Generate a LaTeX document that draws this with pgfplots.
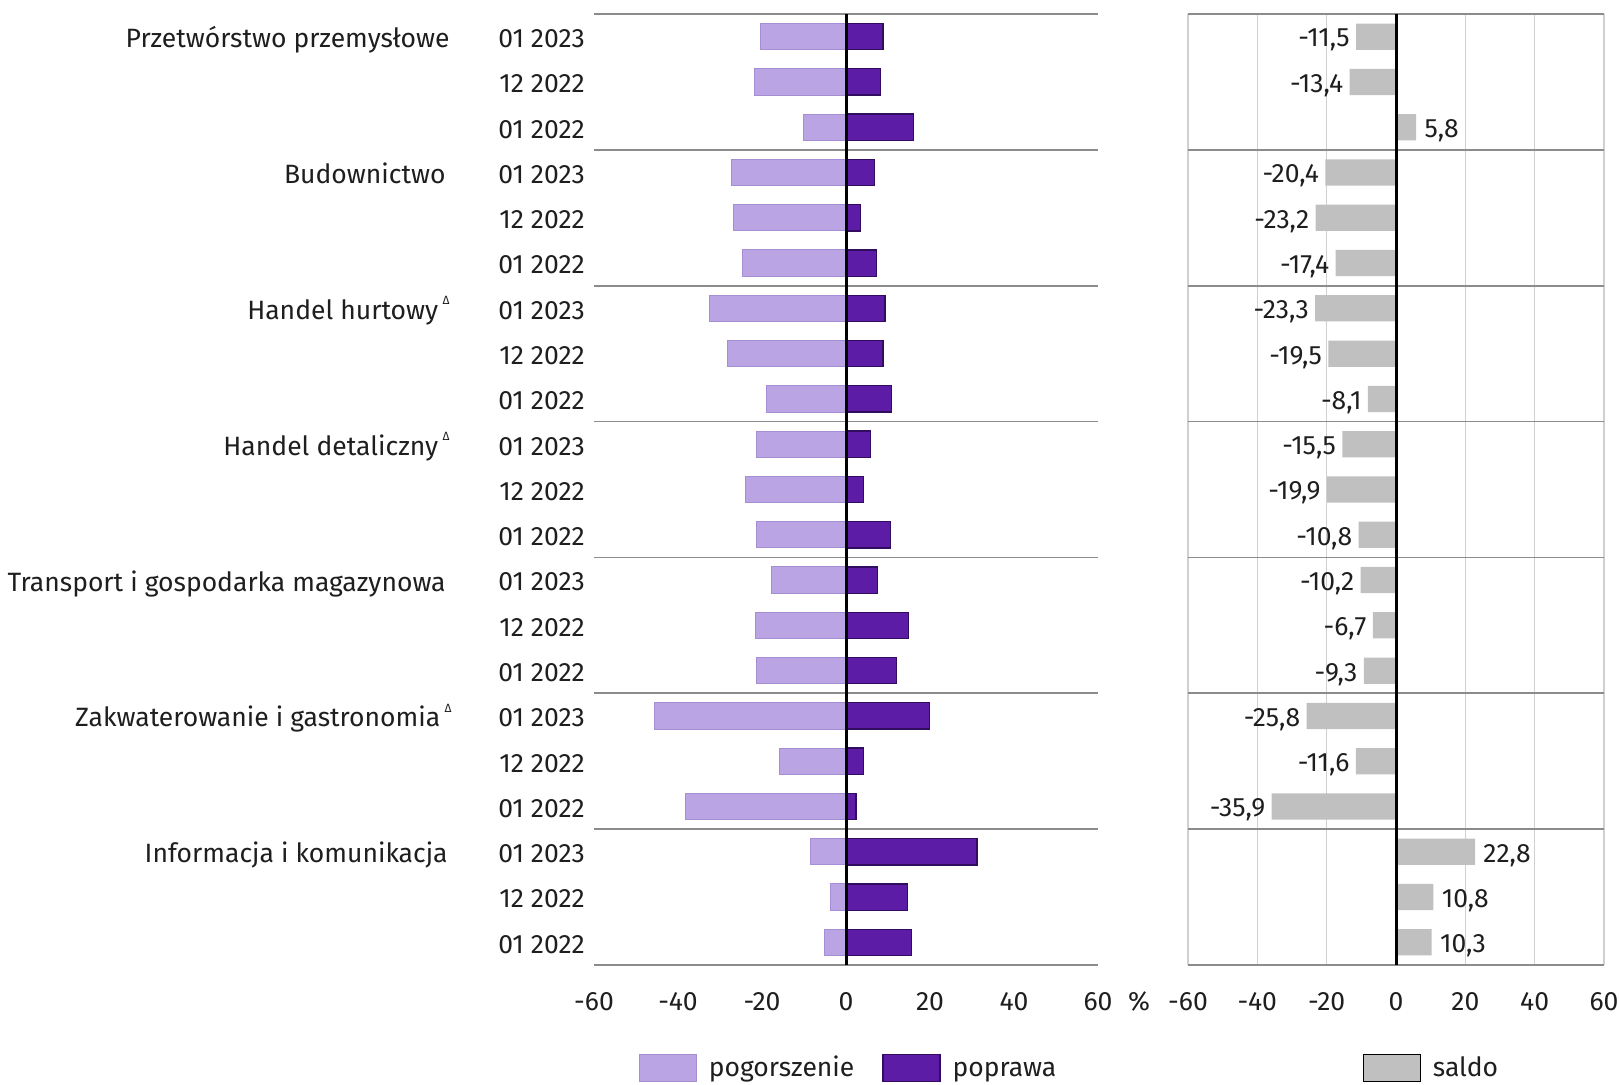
\documentclass[border=0pt]{standalone}
\usepackage{fontspec}
\setmainfont{Fira Sans}
\usepackage{pgfplots}
\usepackage{pgfplotstable}
\pgfplotsset{compat=1.18}
\definecolor{pog}{RGB}{186,164,228}
\definecolor{pogd}{RGB}{166,142,212}
\definecolor{pop}{RGB}{92,28,165}
\definecolor{popd}{RGB}{50,12,95}
\definecolor{sal}{RGB}{192,192,192}
\definecolor{sep}{RGB}{140,140,140}
\definecolor{grd}{RGB}{208,208,208}
\definecolor{txt}{RGB}{30,30,30}

\pgfplotstableread{
y pog pop saldo lab
20 -20.3 8.8 -11.5 -11,5
19 -21.7 8.3 -13.4 -13,4
18 -10.2 16.0 5.8 5,8
17 -27.2 6.8 -20.4 -20,4
16 -26.7 3.5 -23.2 -23,2
15 -24.6 7.2 -17.4 -17,4
14 -32.6 9.3 -23.3 -23,3
13 -28.3 8.8 -19.5 -19,5
12 -18.9 10.8 -8.1 -8,1
11 -21.3 5.8 -15.5 -15,5
10 -24.0 4.1 -19.9 -19,9
9 -21.3 10.5 -10.8 -10,8
8 -17.7 7.5 -10.2 -10,2
7 -21.5 14.8 -6.7 -6,7
6 -21.4 12.1 -9.3 -9,3
5 -45.7 19.9 -25.8 -25,8
4 -15.8 4.2 -11.6 -11,6
3 -38.3 2.4 -35.9 -35,9
2 -8.4 31.2 22.8 22,8
1 -3.8 14.6 10.8 10,8
0 -5.2 15.5 10.3 10,3
}\data

\pgfplotsset{
  common/.style={
    scale only axis, anchor=south west, height=475.5bp,
    xbar, bar width=0.58, bar shift=0pt,
    xmin=-60, xmax=60, ymin=-0.5, ymax=20.5,
    axis line style={draw=none},
    major tick length=0pt,
    xtick={-60,-40,-20,0,20,40,60},
    xticklabels={-60,-40,-20,0,20,40,60},
    xticklabel style={yshift=-9bp, text=txt},
    extra y ticks={-0.5,2.5,5.5,8.5,11.5,14.5,17.5,20.5},
    extra y tick labels={},
    extra y tick style={grid=major, major grid style={sep, line width=0.8bp}},
    legend image code/.code={\draw[#1] (0bp,-6.75bp) rectangle (28.5bp,6.75bp);},
    legend style={draw=none, fill=none, inner sep=0pt, legend columns=-1,
      /tikz/every odd column/.append style={column sep=4bp},
      /tikz/every even column/.append style={column sep=12bp},
      nodes={text=txt}},
  },
}
\newcommand{\tri}{\,\raisebox{0.55em}{\fontsize{6}{6}\selectfont Δ}}

\begin{document}
\fontsize{13.3}{16}\selectfont
\begin{tikzpicture}
\path[use as bounding box] (0,0) rectangle (809.5bp,542.5bp);

\begin{axis}[common, clip=false,
  at={(297bp,60bp)}, width=252bp,
  ytick={0,...,20},
  yticklabels={01 2022,12 2022,01 2023,01 2022,12 2022,01 2023,01 2022,12 2022,01 2023,01 2022,12 2022,01 2023,01 2022,12 2022,01 2023,01 2022,12 2022,01 2023,01 2022,12 2022,01 2023},
  yticklabel style={text=txt, yshift=-1bp},
  legend style={at={(0.507,-0.108)}, anchor=center},
]
\addplot[fill=pog, draw=pogd, line width=0.5bp] table[x=pog, y=y] {\data};
\addlegendentry{\strut pogorszenie}
\addplot[fill=pop, draw=popd, line width=0.6bp] table[x=pop, y=y] {\data};
\addlegendentry{\strut poprawa}
\draw[black, line width=1.5bp] (axis cs:0,-0.5) -- (axis cs:0,20.5);
\begin{scope}[every node/.style={anchor=base east, inner sep=0pt, text=txt, yshift=-5.5bp}]
\node at ([xshift=-72bp]axis cs:-60,20) {Przetwórstwo przemysłowe};
\node at ([xshift=-74bp]axis cs:-60,17) {Budownictwo};
\node at ([xshift=-72bp]axis cs:-60,14) {Handel hurtowy\tri};
\node at ([xshift=-72bp]axis cs:-60,11) {Handel detaliczny\tri};
\node at ([xshift=-74bp]axis cs:-60,8) {Transport i gospodarka magazynowa};
\node at ([xshift=-71bp]axis cs:-60,5) {Zakwaterowanie i gastronomia\tri};
\node at ([xshift=-73bp]axis cs:-60,2) {Informacja i komunikacja};
\end{scope}
\end{axis}

\begin{axis}[common,
  at={(594bp,60bp)}, width=208bp,
  ytick=\empty,
  xmajorgrids, major grid style={grd, line width=0.6bp},
  nodes near coords, point meta=explicit symbolic,
  legend style={at={(0.42,-0.108)}, anchor=west},
]
\addplot[fill=sal, draw=none, restrict x to domain=-100:0,
  every node near coord/.style={anchor=east, text=txt, inner sep=3bp, yshift=-1.8bp}]
  table[x=saldo, y=y, meta=lab] {\data};
\addlegendentry{\strut saldo}
\addplot[fill=sal, draw=none, restrict x to domain=0:100, forget plot,
  every node near coord/.style={anchor=west, text=txt, inner sep=4bp, yshift=-1.8bp}]
  table[x=saldo, y=y, meta=lab] {\data};
\draw[black, line width=1.5bp] (axis cs:0,-0.5) -- (axis cs:0,20.5);
\end{axis}

\node[text=txt] at (569.5bp,41.75bp) {\%};
\end{tikzpicture}
\end{document}
